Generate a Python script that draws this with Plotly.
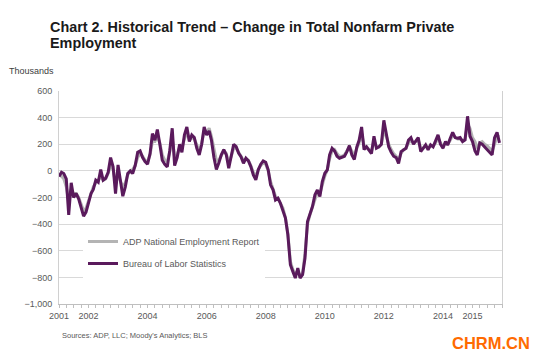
import pandas as pd
import plotly.graph_objects as go

# Monthly change in private employment, thousands (Jan 2001 - Dec 2015)
bls = [
    -42, -10, -20, -60, -330, -90, -200, -170, -210, -270, -340, -310,   # 2001
    -240, -170, -140, -70, -85, 10, -70, -55, -10, 100, 30, -170,        # 2002
    45, -100, -190, -120, -20, 0, -20, 40, 140, 150, 100, 70,            # 2003
    50, 130, 280, 230, 310, 200, 80, 50, 30, 150, 320, 40,               # 2004
    100, 200, 140, 270, 330, 220, 270, 250, 170, 120, 200, 330,          # 2005
    270, 300, 230, 100, 10, 60, 120, 160, 120, 20, 120, 200,             # 2006
    182, 132, 107, 57, 95, 75, 32, -30, -68, 8, 50, 75,                  # 2007
    65, 8, -105, -142, -218, -205, -243, -293, -355, -480, -705, -755,   # 2008
    -805, -730, -805, -780, -655, -380, -318, -268, -180, -143, -193, -80,  # 2009
    -18, 8, 120, 170, 150, 110, 95, 100, 110, 145, 190, 120,             # 2010
    85, 180, 230, 330, 160, 180, 155, 130, 260, 170, 180, 200,           # 2011
    380, 260, 180, 140, 110, 100, 55, 145, 160, 170, 232, 250,           # 2012
    200, 230, 250, 145, 170, 195, 158, 195, 180, 220, 270, 200,          # 2013
    170, 220, 195, 245, 290, 250, 245, 250, 220, 232, 410, 260,          # 2014
    220, 150, 120, 210, 200, 180, 160, 140, 120, 250, 290, 210,          # 2015
]
adp = [
    -30, -40, -60, -120, -230, -140, -170, -170, -200, -250, -300, -280,
    -220, -160, -120, -90, -70, -40, -70, -60, -20, 40, 10, -90,
    -30, -80, -120, -90, -30, 0, 10, 40, 100, 130, 110, 80,
    70, 120, 220, 220, 260, 210, 120, 80, 70, 140, 250, 100,
    120, 180, 170, 240, 290, 230, 250, 240, 190, 150, 210, 300,
    290, 320, 260, 160, 80, 80, 120, 150, 130, 60, 110, 170,
    170, 140, 110, 80, 90, 80, 40, -10, -40, 10, 40, 60,
    50, 0, -80, -130, -190, -210, -240, -280, -350, -470, -680, -740,
    -780, -750, -790, -770, -620, -400, -330, -270, -200, -160, -170, -100,
    -40, 10, 90, 150, 160, 130, 110, 110, 120, 150, 180, 150,
    110, 170, 210, 280, 190, 180, 160, 150, 230, 180, 180, 200,
    300, 260, 200, 160, 130, 110, 80, 130, 160, 170, 210, 230,
    210, 220, 230, 170, 170, 190, 170, 190, 185, 210, 250, 210,
    180, 210, 200, 230, 270, 250, 240, 240, 225, 235, 350, 320,
    250, 220, 170, 210, 220, 200, 190, 170, 150, 200, 260, 257,
]
months = pd.date_range("2001-01-01", periods=len(bls), freq="MS")
tick_years = [2001, 2002, 2004, 2006, 2008, 2010, 2012, 2014, 2015]
tick_labels = [str(y) for y in tick_years]
title_lines = ["Chart 2. Historical Trend \u2013 Change in Total Nonfarm Private", "Employment"]

FONT = "Liberation Sans, Arial, sans-serif"

fig = go.Figure()
fig.add_trace(go.Scatter(
    x=months, y=adp, mode="lines", name="ADP National Employment Report",
    line=dict(color="#b4b4b4", width=3), legendgroup="a"))
fig.add_trace(go.Scatter(
    x=months, y=bls, mode="lines", name="Bureau of Labor Statistics",
    line=dict(color="#5a1a5c", width=3), legendgroup="b"))

def px_x(p):
    return (p - 59) / 443

def px_y(p):
    return (304 - p) / 213

annotations = [
    dict(text=f"<b>{title_lines[1]}</b>", xref="paper", yref="paper",
         x=px_x(48), y=px_y(43), xanchor="left", yanchor="middle", showarrow=False,
         font=dict(family=FONT, size=14.4, color="#1a1a1a")),
    dict(text="Thousands", xref="paper", yref="paper",
         x=px_x(7), y=px_y(71.5), xanchor="left", yanchor="middle",
         showarrow=False, font=dict(family=FONT, size=9, color="#404040")),
    dict(text="Sources: ADP, LLC; Moody's Analytics; BLS", xref="paper", yref="paper",
         x=px_x(60), y=px_y(335), xanchor="left", yanchor="middle",
         showarrow=False, font=dict(family=FONT, size=7.5, color="#595959")),
    dict(text="<b>CHRM.CN</b>", xref="paper", yref="paper",
         x=px_x(490.5), y=px_y(343), xanchor="center", yanchor="middle",
         showarrow=False, font=dict(family=FONT, size=16.5, color="#ff6a00")),
]

fig.update_layout(
    width=540, height=361,
    margin=dict(l=59, r=38, t=91, b=57),
    paper_bgcolor="white", plot_bgcolor="white",
    font=dict(family=FONT, size=9, color="#595959"),
    title=dict(
        text=f"<b>{title_lines[0]}</b>",
        x=50 / 540, xref="container", xanchor="left",
        y=1 - 26.5 / 361, yref="container", yanchor="middle",
        font=dict(family=FONT, size=14.4, color="#1a1a1a")),
    showlegend=True,
    legend=dict(
        x=px_x(83), y=px_y(227), xanchor="left", yanchor="top",
        bgcolor="white", borderwidth=0, tracegroupgap=3,
        font=dict(family=FONT, size=9, color="#595959")),
    xaxis=dict(
        type="date", range=["2001-01-01", "2016-01-01"],
        tickvals=[f"{y}-01-01" for y in tick_years], ticktext=tick_labels,
        showgrid=False, showline=True, linecolor="#bfbfbf", linewidth=1,
        ticks="outside", ticklen=3, tickcolor="#bfbfbf",
        minor=dict(ticks="outside", dtick="M3", ticklen=3, tickcolor="#bfbfbf", showgrid=False),
        tickfont=dict(family=FONT, size=9, color="#595959")),
    yaxis=dict(
        range=[-1000, 600], dtick=200, tickformat=",",
        showgrid=True, gridcolor="#d9d9d9", gridwidth=1, zeroline=False,
        showline=True, linecolor="#d0d0d0", mirror=True,
        ticks="", ticklabelstandoff=4,
        tickfont=dict(family=FONT, size=9, color="#595959")),
    annotations=annotations,
)

fig.write_html("out.html", config={"displayModeBar": False},
               post_script="document.body.style.margin='0';")
